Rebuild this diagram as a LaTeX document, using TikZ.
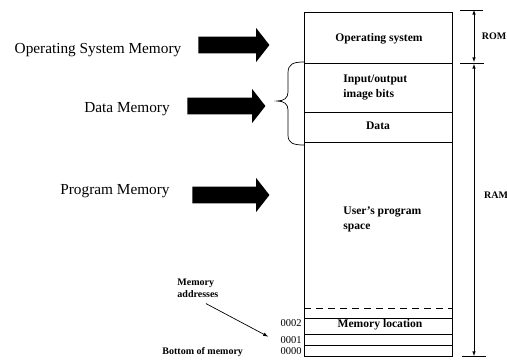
\documentclass[tikz,border=0pt]{standalone}
\usepackage{fontspec}
\setmainfont{Liberation Serif}
\usetikzlibrary{shapes.arrows}

\tikzset{
  sidelabel/.style={font=\fontsize{15.3}{18}\selectfont, inner sep=0pt, anchor=base},
  celllabel/.style={font=\fontsize{11.6}{14.5}\selectfont\bfseries, inner sep=0pt, align=left},
  addrlabel/.style={font=\fontsize{10.5}{12}\selectfont, inner sep=0pt, anchor=base east},
  notelabel/.style={font=\fontsize{10}{12}\selectfont\bfseries, inner sep=0pt, align=left},
  fatarrow/.style={single arrow, fill=black, draw=none, inner xsep=0pt, inner ysep=8pt,
    single arrow head extend=8.5pt, single arrow tip angle=104, anchor=tip},
  dashrow/.style={dash pattern=on 7pt off 5pt},
}

\begin{document}
\begin{tikzpicture}[x=1pt, y=-1pt, line width=0.9pt]
  \useasboundingbox (0,0) rectangle (507,360);
  % labels on the left and their arrows
  \node[sidelabel] (osmem) at (98,53) {Operating System Memory};
  \node[sidelabel] (datamem) at (127,112) {Data Memory};
  \node[sidelabel] (progmem) at (115,194) {Program Memory};
  \node[fatarrow, minimum height=71pt] (osarrow) at (270,45) {};
  \node[fatarrow, minimum height=78pt] (dataarrow) at (266,106) {};
  \node[fatarrow, minimum height=77pt] (progarrow) at (270,195) {};

  % memory map
  \draw (304,12) rectangle (452,356);
  \draw (304,63) -- (452,63);
  \draw (304,112) -- (452,112);
  \draw (304,142) -- (452,142);
  \draw[dashrow] (304,308) -- (452,308);
  \draw (304,318) -- (452,318);
  \draw (304,334) -- (452,334);
  \draw (304,345) -- (452,345);
  \node[celllabel, anchor=base] (ossys) at (379,41) {Operating system};
  \node[celllabel, anchor=base west] (iobits) at (343,97) {Input/output\\image bits};
  \node[celllabel, anchor=base] (datacell) at (378,129) {Data};
  \node[celllabel, anchor=base west] (userspace) at (343,229) {User's program\\space};
  \node[celllabel, anchor=base] (memloc) at (380,327) {Memory location};

  % brace over the data part
  \draw[line width=0.7pt] (304,62) .. controls (293,62) and (288,64) .. (288,73) -- (288,92)
    .. controls (288,98) and (284,101) .. (277,101) .. controls (284,101) and (288,104) .. (288,110)
    -- (288,135) .. controls (288,143) and (293,145) .. (304,145);

  % addresses
  \node[addrlabel] (a2) at (302,326) {0002};
  \node[addrlabel] (a1) at (302,343) {0001};
  \node[addrlabel] (a0) at (302,354) {0000};
  \node[notelabel, anchor=base west] (addrnote) at (177,297) {Memory\\addresses};
  \node[notelabel, anchor=base west] (bottomnote) at (162,354) {Bottom of memory};
  \draw[-latex, line width=0.7pt] ([shift={(8,6)}]addrnote.south) -- ([shift={(-12,-3)}]a1.west);

  % ROM / RAM extent
  \coordinate (romtop) at (474,10);
  \coordinate (romend) at (474,62);
  \coordinate (ramtop) at (474,64);
  \coordinate (ramend) at (474,356);
  \draw[line width=0.6pt] (460,10) -- (483,10);
  \draw[line width=0.6pt] (460,63) -- (484,63);
  \draw[line width=0.6pt] (462,356) -- (486,356);
  \draw[latex-latex, line width=0.6pt] (romtop) -- (romend);
  \draw[latex-latex, line width=0.6pt] (ramtop) -- (ramend);
  \node[notelabel, anchor=base] (rom) at (494,39) {ROM};
  \node[notelabel, anchor=base] (ram) at (496,198) {RAM};
\end{tikzpicture}
\end{document}
